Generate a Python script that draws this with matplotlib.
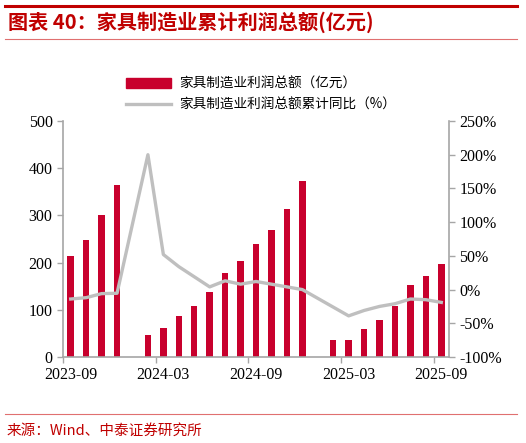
import numpy as np
import matplotlib
matplotlib.use('Agg')
import matplotlib.pyplot as plt
from matplotlib.lines import Line2D
from matplotlib.patches import Rectangle

plt.rcParams['font.family'] = ['Noto Sans CJK SC', 'DejaVu Sans']

# Monthly categories 2023-09 .. 2025-09 (Jan has no data)
months = ['2023-09', '2023-10', '2023-11', '2023-12', '2024-01', '2024-02', '2024-03',
          '2024-04', '2024-05', '2024-06', '2024-07', '2024-08', '2024-09', '2024-10',
          '2024-11', '2024-12', '2025-01', '2025-02', '2025-03', '2025-04', '2025-05',
          '2025-06', '2025-07', '2025-08', '2025-09']
profit = [214, 247, 301, 364, None, 47, 61, 87, 108, 138, 178, 203, 239, 269,
          314, 373, None, 35, 37, 60, 78, 107, 153, 171, 197]
yoy = [-14, -12, -6, -5.5, None, 200, 52, 34, 19, 4, 13, 8, 12, 8,
       4, 0, None, -26, -39, -31, -25, -21, -14, -15, -19]
tick_labels = ['2023-09', '2024-03', '2024-09', '2025-03', '2025-09']

bar_color = '#C8002D'
line_color = '#BFBFBF'
spine_color = '#A6A6A6'
red = '#C00000'

x = np.arange(len(months))
bar_vals = np.array([np.nan if v is None else v for v in profit], dtype=float)
line_vals = np.array([np.nan if v is None else v for v in yoy], dtype=float)

fig = plt.figure(figsize=(5.26, 4.43), dpi=100)

# header / footer decorations
fig.add_artist(Line2D([5 / 526, 517 / 526], [1 - 6 / 443] * 2, color=red, lw=2.2))
fig.add_artist(Line2D([5 / 526, 517 / 526], [1 - 39 / 443] * 2, color='#E07070', lw=0.8))
fig.add_artist(Line2D([5 / 526, 517 / 526], [1 - 414 / 443] * 2, color='#E07070', lw=0.8))
fig.text(8 / 526, 1 - 22 / 443, '图表 40：家具制造业累计利润总额(亿元)', color=red,
         fontsize=14.5, fontweight='bold', fontstyle='italic', va='center', ha='left')
fig.text(7 / 526, 1 - 431 / 443, '来源：Wind、中泰证券研究所', color=red,
         fontsize=10.5, va='center', ha='left')

ax = fig.add_axes([63 / 526, 1 - 357 / 443, 386 / 526, 236 / 443])
ax.bar(x, np.nan_to_num(bar_vals), width=0.42, color=bar_color, zorder=2)
ax.set_ylim(0, 500)
ax.set_yticks(np.arange(0, 501, 100))
ax.set_xlim(-0.5, len(months) - 0.5)

ax2 = ax.twinx()
mask = ~np.isnan(line_vals)
ax2.plot(x[mask], line_vals[mask], color=line_color, lw=2.4, zorder=3)
ax2.set_ylim(-100, 250)
ax2.set_yticks(np.arange(-100, 251, 50))
ax2.set_yticklabels([f'{v}%' for v in range(-100, 251, 50)])

# boundary ticks, centred labels
label_pos = [months.index(m) for m in tick_labels]
ax.set_xticks([p - 0.5 for p in label_pos])
ax.set_xticklabels([])
ax.set_xticks(label_pos, minor=True)
ax.set_xticklabels(tick_labels, minor=True)
ax.tick_params(axis='x', which='minor', length=0, pad=7)
ax.tick_params(axis='x', which='major', length=4, color=spine_color, width=1)

serif = 'Liberation Serif'
for a in (ax, ax2):
    a.spines['top'].set_visible(False)
    for s in ('left', 'right', 'bottom'):
        a.spines[s].set_color(spine_color)
        a.spines[s].set_linewidth(1.2)
    a.tick_params(axis='y', length=4, color=spine_color, width=1, labelsize=11)
    for lab in a.get_yticklabels() + a.get_xticklabels(minor=True):
        lab.set_fontfamily(serif)
        lab.set_fontsize(11.5)
ax2.spines['left'].set_visible(False)
ax2.spines['bottom'].set_visible(False)
ax.spines['right'].set_visible(False)

handles = [Rectangle((0, 0), 1, 1, color=bar_color),
           Line2D([], [], color=line_color, lw=2.4)]
fig.legend(handles, ['家具制造业利润总额（亿元）', '家具制造业利润总额累计同比（%）'],
           loc='center left', bbox_to_anchor=(114 / 526, 1 - 94 / 443), frameon=False,
           fontsize=9.8, handlelength=3.3, labelspacing=0.5, handletextpad=0.6)

fig.savefig('out.png', dpi=100)
